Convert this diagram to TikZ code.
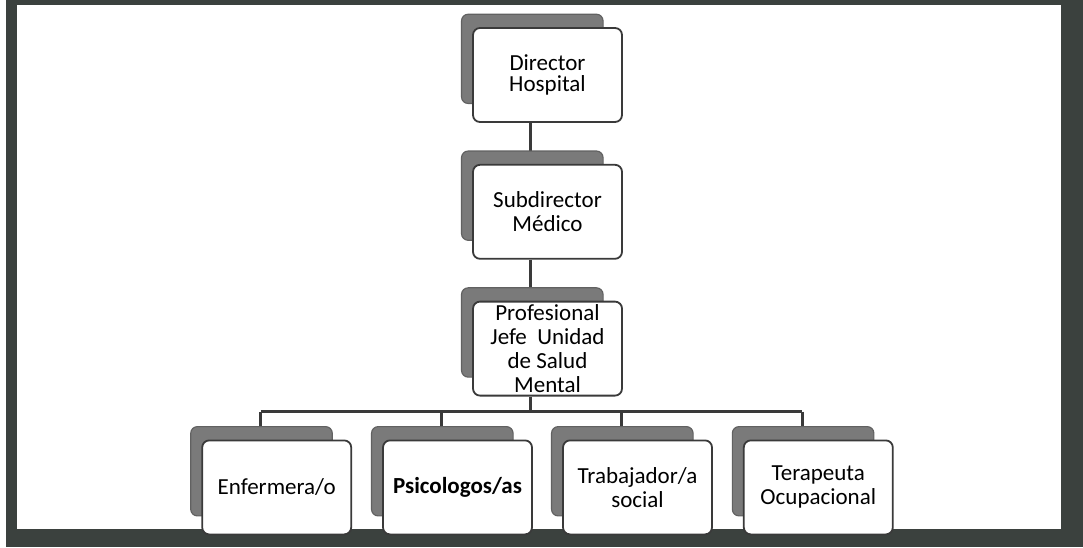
\documentclass[tikz,border=0pt]{standalone}
\usepackage{fontspec}
\setmainfont{Carlito}
\usetikzlibrary{positioning, shadows, backgrounds}

\definecolor{framegray}{HTML}{3B413E}
\definecolor{boxline}{HTML}{3A3A3A}
\definecolor{backcard}{HTML}{7A7A7A}

\begin{document}
\begin{tikzpicture}[x=1pt, y=1pt,
    card/.style={draw=boxline, line width=1.8pt, fill=white, rounded corners=7pt,
      minimum width=149pt, minimum height=94pt, inner sep=0pt, align=center,
      font={\fontsize{23}{24}\selectfont},
      copy shadow={shadow xshift=-16pt, shadow yshift=17pt, shadow scale=0.95,
        fill=backcard, draw=boxline!80, line width=1.2pt}},
    link/.style={draw=boxline, line width=3.2pt}]
    \useasboundingbox (0,0) rectangle (1083,-547);

    \node[card, font={\fontsize{23}{21}\selectfont}] (director) at (547.5,-75) {Director\\Hospital};
    \node[card] (subdir) [below=41pt of director] {Subdirector\\Médico};
    \node[card] (jefe) [below=41pt of subdir] {Profesional\\Jefe~ Unidad\\de Salud\\Mental};
    \node[card] (psico) [below=43pt of jefe, xshift=-90pt] {\bfseries Psicologos/as};
    \node[card] (trab) [below=43pt of jefe, xshift=90pt] {Trabajador/a\\social};
    \node[card] (enf) [left=30pt of psico] {Enfermera/o};
    \node[card] (tera) [right=30pt of trab] {Terapeuta\\Ocupacional};

    \begin{scope}[on background layer]
      \fill[framegray] (6,0) rectangle (1083,-547);
      \fill[white] (17,-5) rectangle (1061,-529);
      \draw[link] ([xshift=-17pt]director.south) -- ([xshift=-17pt]subdir.north);
      \draw[link] ([xshift=-17pt]subdir.south) -- ([xshift=-17pt]jefe.north);
      \draw[link] ([xshift=-17pt]jefe.south) -- ++(0,-15pt) coordinate (bus);
      \draw[link] ([xshift=-16pt]enf.north |- bus) -- ([xshift=-16pt]tera.north |- bus);
      \foreach \n in {enf, psico, trab, tera}
        \draw[link] ([xshift=-16pt]\n.north |- bus) -- ([xshift=-16pt]\n.north);
    \end{scope}
\end{tikzpicture}
\end{document}
